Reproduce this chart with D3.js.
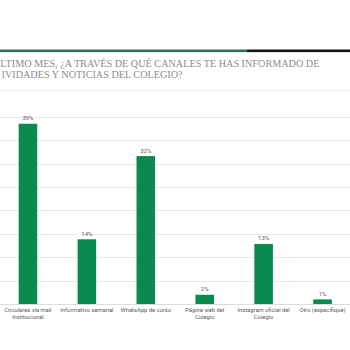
<!DOCTYPE html>
<html>
<head>
<meta charset="utf-8">
<script src="https://cdn.jsdelivr.net/npm/d3@7"></script>
<style>
  html, body { margin: 0; padding: 0; background: #ffffff; }
  svg { display: block; }
</style>
</head>
<body>
<script>
// Survey question: channels used to get school news in the last month
const categories = [
  "Circulares vía mail institucional",
  "Informativo semanal",
  "WhatsApp de curso",
  "Página web del Colegio",
  "Instagram oficial del Colegio",
  "Otro (especifique)"
];
const categoryLines = [
  ["Circulares vía mail", "institucional"],
  ["Informativo semanal"],
  ["WhatsApp de curso"],
  ["Página web del", "Colegio"],
  ["Instagram oficial del", "Colegio"],
  ["Otro (especifique)"]
];
const percentages = [39, 14, 32, 2, 13, 1];
const valueLabels = ["39%", "14%", "32%", "2%", "13%", "1%"];
const titleLines = [
  "LTIMO MES, ¿A TRAVÉS DE QUÉ CANALES TE HAS INFORMADO DE",
  "IVIDADES Y NOTICIAS DEL COLEGIO?"
];

const W = 350, H = 350;
const svg = d3.select("body").append("svg")
  .attr("width", W).attr("height", H);

svg.append("rect").attr("width", W).attr("height", H).attr("fill", "#ffffff");

// header rule: green then black
svg.append("rect").attr("x", 0).attr("y", 49.5).attr("width", 247).attr("height", 2.6).attr("fill", "#2f6e58");
svg.append("rect").attr("x", 247).attr("y", 49.5).attr("width", W - 247).attr("height", 2.6).attr("fill", "#141414");

// title
const titleG = svg.append("g")
  .attr("font-family", "'Liberation Serif', 'DejaVu Serif', serif")
  .attr("font-size", 10.2)
  .attr("fill", "#8c8c8c");
const titleY = [66.7, 77.6];
const titleX = [0.3, 1.5];
titleLines.forEach((t, i) => {
  titleG.append("text").attr("x", titleX[i]).attr("y", titleY[i]).text(t);
});

// thin separator under the title
svg.append("line").attr("x1", 0).attr("x2", W).attr("y1", 90.5).attr("y2", 90.5)
  .attr("stroke", "#ebebeb").attr("stroke-width", 1);

// scales
const x = d3.scaleBand().domain(categories)
  .range([-1.5, 352]).paddingInner(0.685).paddingOuter(0.3425);
const yMax = 40.5;
const y = d3.scaleLinear().domain([0, yMax]).range([304, 116.8]);

// gridlines
const gridValues = d3.range(0, 9).map(i => i * yMax / 8);
svg.append("g").selectAll("line").data(gridValues).join("line")
  .attr("x1", 0).attr("x2", W)
  .attr("y1", d => Math.round(y(d)) + 0.5).attr("y2", d => Math.round(y(d)) + 0.5)
  .attr("stroke", d => d === 0 ? "#dcdcdc" : "#e9e9e9").attr("stroke-width", 1);

// bars
svg.append("g").selectAll("rect").data(percentages).join("rect")
  .attr("x", (d, i) => x(categories[i]))
  .attr("width", x.bandwidth())
  .attr("y", d => y(d))
  .attr("height", d => y(0) - y(d))
  .attr("fill", "#0a8a4f");

// value labels
svg.append("g").selectAll("text").data(percentages).join("text")
  .attr("x", (d, i) => x(categories[i]) + x.bandwidth() / 2)
  .attr("y", d => y(d) - 3.5)
  .attr("text-anchor", "middle")
  .attr("font-family", "Roboto, 'Liberation Sans', sans-serif")
  .attr("font-size", 6)
  .attr("fill", "#5a5a5a")
  .text((d, i) => valueLabels[i]);

// category labels
const catG = svg.append("g")
  .attr("font-family", "Roboto, 'Liberation Sans', sans-serif")
  .attr("font-size", 5.8)
  .attr("fill", "#5a5a5a")
  .attr("text-anchor", "middle");
categories.forEach((c, i) => {
  const t = catG.append("text")
    .attr("x", x(c) + x.bandwidth() / 2)
    .attr("y", 312);
  categoryLines[i].forEach((ln, j) => {
    t.append("tspan")
      .attr("x", x(c) + x.bandwidth() / 2)
      .attr("dy", j === 0 ? 0 : 6.8)
      .text(ln);
  });
});
</script>
</body>
</html>
